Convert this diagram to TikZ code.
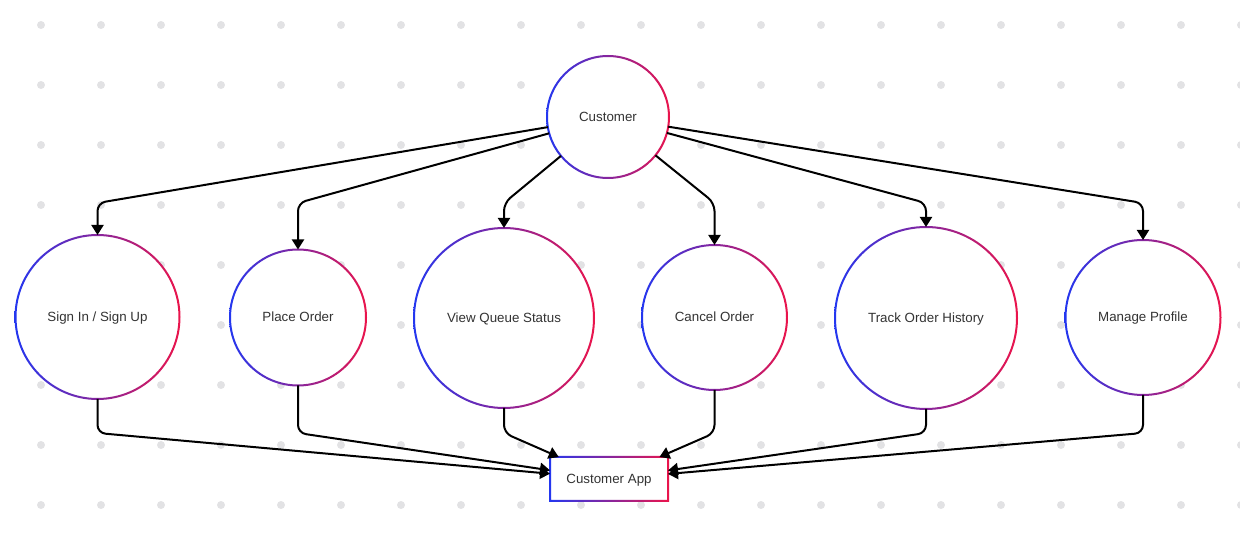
\documentclass[tikz,border=0pt]{standalone}
\usepackage{fontspec}
\setmainfont{Liberation Sans}
\usetikzlibrary{arrows.meta,calc}

\definecolor{ringblue}{RGB}{35,55,240}
\definecolor{ringred}{RGB}{235,20,75}
\definecolor{dotgray}{RGB}{226,226,228}
\definecolor{labelgray}{RGB}{51,51,51}

\tikzset{
  labelfont/.style={font=\fontsize{10}{12}\selectfont, text=labelgray,
    text height=8.5pt, text depth=2pt},
  usecase/.style={circle, fill=white, inner sep=0pt, outer sep=0pt,
    minimum size=#1*1.5pt, labelfont},
  appbox/.style={rectangle, fill=white, inner sep=0pt, outer sep=0pt,
    minimum width=88.5pt, minimum height=33pt, labelfont},
  conn/.style={line width=1.5pt, rounded corners=6pt, line join=round,
    -{Triangle[length=7.5pt,width=9pt]}},
  ring/.style={left color=ringblue, right color=ringred, even odd rule},
}

% gradient outline around a round node
\newcommand\gradring[1]{%
  \shade[ring] let \p1=($(#1.east)-(#1.center)$) in
    (#1.center) circle[radius=\x1+0.75pt] circle[radius=\x1-0.75pt];}

\begin{document}
\begin{tikzpicture}[x=0.75pt,y=-0.75pt]
  \useasboundingbox (0,0) rectangle (1240,541);

  % dotted background grid
  \foreach \gx in {41,101,...,1241}
    \foreach \gy in {25,85,...,541}
      \fill[dotgray] (\gx,\gy) circle[radius=3pt];

  % actor and use cases
  \node[usecase=61]   (cust)    at (608,117)   {Customer};
  \node[usecase=82]   (signin)  at (97.5,317)  {Sign In / Sign Up};
  \node[usecase=68]   (place)   at (298,317.5) {Place Order};
  \node[usecase=90]   (queue)   at (504,318)   {View Queue Status};
  \node[usecase=72.5] (cancel)  at (714.5,317.5) {Cancel Order};
  \node[usecase=91]   (track)   at (926,318)   {Track Order History};
  \node[usecase=77.5] (profile) at (1143,317.5) {Manage Profile};
  \node[appbox]       (app)     at (609,479)   {Customer App};

  \gradring{cust}
  \gradring{signin}
  \gradring{place}
  \gradring{queue}
  \gradring{cancel}
  \gradring{track}
  \gradring{profile}

  \shade[ring]
    ([shift={(-0.75pt,0.75pt)}]app.north west) rectangle ([shift={(0.75pt,-0.75pt)}]app.south east)
    ([shift={(0.75pt,-0.75pt)}]app.north west) rectangle ([shift={(-0.75pt,0.75pt)}]app.south east);

  % bend levels of the connectors
  \coordinate (topbend) at (0,203);
  \coordinate (botbend) at (0,433);

  % customer to each use case
  \foreach \uc in {signin,place,queue,cancel,track,profile}
    \draw[conn] (cust) -- (\uc.north |- topbend) -- (\uc.north);

  % each use case to the app
  \foreach \uc in {signin,place,queue,cancel,track,profile}
    \draw[conn] (\uc.south) -- (\uc.south |- botbend) -- (app);
\end{tikzpicture}
\end{document}
